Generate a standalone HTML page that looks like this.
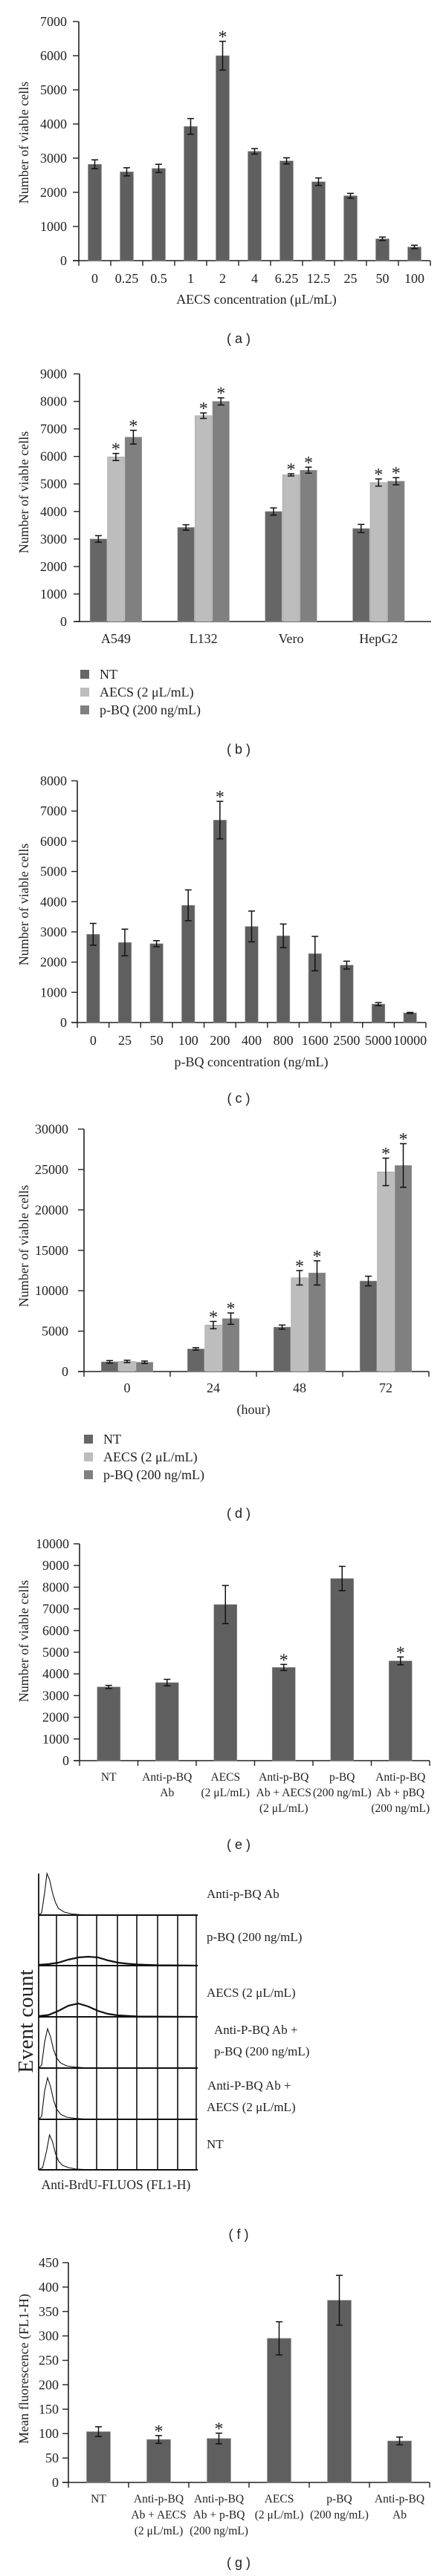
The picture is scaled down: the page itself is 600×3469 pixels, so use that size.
<!DOCTYPE html>
<html><head><meta charset="utf-8"><title>Viable cells and BrdU figure</title>
<style>
html,body{margin:0;padding:0;background:#fff;}
svg{display:block;font-family:"Liberation Serif",serif;}
.lbl{font-family:"Liberation Sans",sans-serif;}
</style></head>
<body>
<svg id="fig" width="600" height="3469" viewBox="0 0 600 3469" xmlns="http://www.w3.org/2000/svg"></svg>
<script>
// ---------- data ----------
const aCats = ["0","0.25","0.5","1","2","4","6.25","12.5","25","50","100"];
const aVals = [2820,2600,2700,3930,6000,3200,2920,2310,1900,640,400];
const aErrs = [130,120,120,230,420,80,90,110,70,50,50];
const aStars = [4];
const aTicks = [0,1000,2000,3000,4000,5000,6000,7000];

const bCats = ["A549","L132","Vero","HepG2"];
const bNT = [3000,3420,4000,3380];
const bNTErr = [120,100,130,150];
const bAECS = [5980,7480,5330,5050];
const bAECSErr = [130,100,40,130];
const bPBQ = [6700,8000,5500,5100];
const bPBQErr = [250,130,110,130];
const bTicks = [0,1000,2000,3000,4000,5000,6000,7000,8000,9000];

const cCats = ["0","25","50","100","200","400","800","1600","2500","5000","10000"];
const cVals = [2920,2650,2610,3880,6700,3180,2870,2280,1900,610,320];
const cErrs = [360,440,100,510,620,510,390,570,130,50,15];
const cStars = [4];
const cTicks = [0,1000,2000,3000,4000,5000,6000,7000,8000];

const dCats = ["0","24","48","72"];
const dNT = [1200,2800,5500,11200];
const dNTErr = [150,150,250,600];
const dAECS = [1250,5750,11600,24700];
const dAECSErr = [150,450,900,1700];
const dPBQ = [1150,6550,12200,25500];
const dPBQErr = [150,700,1500,2700];
const dTicks = [0,5000,10000,15000,20000,25000,30000];

const eCats = [["NT"],["Anti-p-BQ","Ab"],["AECS","(2 \u03bcL/mL)"],["Anti-p-BQ","Ab + AECS","(2 \u03bcL/mL)"],["p-BQ","(200 ng/mL)"],["Anti-p-BQ","Ab + pBQ","(200 ng/mL)"]];
const eVals = [3400,3600,7200,4300,8400,4600];
const eErrs = [70,150,880,140,560,180];
const eStars = [3,5];
const eTicks = [0,1000,2000,3000,4000,5000,6000,7000,8000,9000,10000];

const gCats = [["NT"],["Anti-p-BQ","Ab + AECS","(2 \u03bcL/mL)"],["Anti-p-BQ","Ab + p-BQ","(200 ng/mL)"],["AECS","(2 \u03bcL/mL)"],["p-BQ","(200 ng/mL)"],["Anti-p-BQ","Ab"]];
const gVals = [104,88,90,295,373,85];
const gErrs = [10,8,11,34,51,8];
const gStars = [1,2];
const gTicks = [0,50,100,150,200,250,300,350,400,450];

// flow histograms (x in grid units 0..8, y in px-height units of counts)
const fLabels = [["Anti-p-BQ Ab"],["p-BQ (200 ng/mL)"],["AECS (2 \u03bcL/mL)"],["Anti-P-BQ Ab +","p-BQ (200 ng/mL)"],["Anti-P-BQ Ab +","AECS (2 \u03bcL/mL)"],["NT"]];
const fAnti = [[0,0],[0.15,3],[0.3,30],[0.42,56],[0.55,48],[0.7,30],[0.85,17],[1.0,9],[1.3,4],[1.7,1.5],[2.2,0.5],[3,0],[8,0]];
const fPBQ = [[0,1],[0.5,2],[1,4],[1.5,8],[2,11],[2.5,12],[3,11],[3.5,7],[4,4],[4.5,2.5],[5,1.5],[6,0.5],[8,0]];
const fAECS = [[0,1],[0.5,2.5],[1,8],[1.5,15],[2,18],[2.5,14],[3,8],[3.5,4],[4,2],[5,0.5],[8,0]];
const fAbPBQ = [[0,0],[0.15,4],[0.3,35],[0.45,53],[0.6,42],[0.75,25],[0.9,14],[1.1,7],[1.4,3],[1.8,1.5],[2.3,0.5],[3,0],[8,0]];
const fAbAECS = [[0,0],[0.15,4],[0.3,38],[0.45,56],[0.6,44],[0.75,26],[0.9,14],[1.1,7],[1.4,3],[1.8,1.5],[2.3,0.5],[3,0],[8,0]];
const fNT = [[0,0],[0.2,3],[0.4,25],[0.55,47],[0.7,38],[0.85,22],[1.0,12],[1.2,6],[1.5,3],[1.9,1],[2.4,0.3],[3,0],[8,0]];

// ---------- helpers ----------
const NS = "http://www.w3.org/2000/svg";
const svg = document.getElementById("fig");
function mk(tag, attrs, parent){
  const el = document.createElementNS(NS, tag);
  for (const k in attrs) el.setAttribute(k, attrs[k]);
  (parent || svg).appendChild(el);
  return el;
}
function txt(str, x, y, size, anchor, parent){
  const t = mk("text", {x:x, y:y, "font-size":size, "text-anchor":anchor||"middle", fill:"#222"}, parent);
  t.textContent = str;
  return t;
}
function yOf(p, v){ return p.y0 - v / p.vmax * (p.y0 - p.yTop); }

function axes(p, g){
  const ya = mk("line", {x1:p.x0, y1:p.yTop, x2:p.x0, y2:p.y0, stroke:"#222", "stroke-width":1.6}, g);
  
  
  const xa = mk("line", {x1:p.x0 - 8, y1:p.y0, x2:p.x1, y2:p.y0, stroke:"#222", "stroke-width":1.6}, g);
  
  
  p.ticks.forEach(v => {
    const y = yOf(p, v);
    const tk = mk("line", {x1:p.x0 - 8, y1:y, x2:p.x0, y2:y, stroke:"#222", "stroke-width":1.4}, g);
    
    
    const tl = txt(String(v), p.tickRight, y + 6, 18, "end", g);
    
    
  });
  if (p.catTicks) {
    for (let i = 0; i <= p.nBands; i++) {
      const x = p.x0 + i * (p.x1 - p.x0) / p.nBands;
      const ct = mk("line", {x1:x, y1:p.y0, x2:x, y2:p.y0 + 7, stroke:"#222", "stroke-width":1.4}, g);
      
      
    }
  }
  const yt = txt(p.yTitle, 0, 0, 18, "middle", g);
  yt.setAttribute("transform", "translate(38," + p.yTitleY + ") rotate(-90)");
  
  
}

function bar(p, g, cx, w, v, e, color, star, name){
  const y = yOf(p, v);
  const r = mk("rect", {x:cx - w/2, y:y, width:w, height:p.y0 - y, fill:color, stroke:"#9a9a9a", "stroke-width":0.6}, g);
  
  
  const yt = yOf(p, v + e), yb = yOf(p, v - e);
  const eb = mk("path", {d:"M"+(cx-4.5)+","+yt+"H"+(cx+4.5)+"M"+cx+","+yt+"V"+yb+"M"+(cx-4.5)+","+yb+"H"+(cx+4.5), stroke:"#111", "stroke-width":1.5, fill:"none"}, g);
  
  
  if (star) {
    const s = txt("*", cx, yt + 2, 24, "middle", g);
    
    
  }
}

function panelLabel(letter, y){
  const t = txt("( " + letter + " )", 321, y + 12, 18, "middle");
  t.setAttribute("class", "lbl");
  
  
}

function simplePanel(p, cats, vals, errs, stars, color, name){
  const g = mk("g", {});
  
  
  axes(p, g);
  const band = (p.x1 - p.x0) / p.nBands;
  cats.forEach((c, i) => {
    const cx = p.x0 + band * (i + 0.5);
    bar(p, g, cx, p.barW, vals[i], errs[i], color, stars.indexOf(i) >= 0, "bar-" + i);
    const lines = Array.isArray(c) ? c : [c];
    lines.forEach((ln, j) => {
      const t = txt(ln, cx, p.catY + j * p.catLH, p.catSize, "middle", g);
      
      
    });
  });
  if (p.xTitle) {
    const xt = txt(p.xTitle, p.xTitleX, p.xTitleY, 18, "middle", g);
    
    
  }
}

function groupPanel(p, cats, series, name){
  const g = mk("g", {});
  
  
  axes(p, g);
  cats.forEach((c, i) => {
    const cx = p.gStart + p.band * (i + 0.5);
    series.forEach((s, k) => {
      const bx = cx + (k - 1) * 23.5;
      bar(p, g, bx, 22.5, s.vals[i], s.errs[i], s.color, s.stars && i >= s.starFrom, "bar-" + s.key + "-" + c);
    });
    const t = txt(c, cx, p.catY, 18, "middle", g);
    
    
  });
  if (p.xTitle) {
    const xt = txt(p.xTitle, p.xTitleX, p.xTitleY, 18, "middle", g);
    
    
  }
  series.forEach((s, k) => {
    const ly = p.legY + k * 24;
    const sq = mk("rect", {x:p.legX, y:ly - 6, width:12, height:12, fill:s.color}, g);
    
    
    const lt = txt(s.label, p.legX + 26, ly + 6, 18, "start", g);
    
    
  });
}

// ---------- panel a ----------
simplePanel({x0:106, x1:579, yTop:29, y0:351, vmax:7000, ticks:aTicks, tickRight:90, catTicks:true, nBands:11,
  barW:18, catY:381, catLH:20, catSize:18, yTitle:"Number of viable cells", yTitleY:192,
  xTitle:"AECS concentration (\u03bcL/mL)", xTitleX:345, xTitleY:409}, aCats, aVals, aErrs, aStars, "#5f5f5f", "panel-a-chart");
panelLabel("a", 450);

// ---------- panel b ----------
groupPanel({x0:107, x1:580, yTop:503.5, y0:837, vmax:9000, ticks:bTicks, tickRight:90, catTicks:false,
  gStart:97, band:117.8, catY:866, yTitle:"Number of viable cells", yTitleY:663, legX:108, legY:908},
  bCats, [
    {key:"nt", label:"NT", vals:bNT, errs:bNTErr, color:"#666666", stars:false},
    {key:"aecs", label:"AECS (2 \u03bcL/mL)", vals:bAECS, errs:bAECSErr, color:"#bdbdbd", stars:true, starFrom:0},
    {key:"pbq", label:"p-BQ (200 ng/mL)", vals:bPBQ, errs:bPBQErr, color:"#808080", stars:true, starFrom:0}
  ], "panel-b-chart");
panelLabel("b", 1003);

// ---------- panel c ----------
simplePanel({x0:104, x1:573, yTop:1051.5, y0:1377, vmax:8000, ticks:cTicks, tickRight:90, catTicks:true, nBands:11,
  barW:17.5, catY:1407, catLH:20, catSize:18, yTitle:"Number of viable cells", yTitleY:1218,
  xTitle:"p-BQ concentration (ng/mL)", xTitleX:338, xTitleY:1436}, cCats, cVals, cErrs, cStars, "#5f5f5f", "panel-c-chart");
panelLabel("c", 1473);

// ---------- panel d ----------
groupPanel({x0:113, x1:577, yTop:1520.5, y0:1847, vmax:30000, ticks:dTicks, tickRight:92, catTicks:true, nBands:4,
  gStart:113, band:116, catY:1875, yTitle:"Number of viable cells", yTitleY:1678, legX:113, legY:1938,
  xTitle:"(hour)", xTitleX:341, xTitleY:1904},
  dCats, [
    {key:"nt", label:"NT", vals:dNT, errs:dNTErr, color:"#666666", stars:false},
    {key:"aecs", label:"AECS (2 \u03bcL/mL)", vals:dAECS, errs:dAECSErr, color:"#bdbdbd", stars:true, starFrom:1},
    {key:"pbq", label:"p-BQ (200 ng/mL)", vals:dPBQ, errs:dPBQErr, color:"#808080", stars:true, starFrom:1}
  ], "panel-d-chart");
panelLabel("d", 2032);

// ---------- panel e ----------
simplePanel({x0:107, x1:578, yTop:2079, y0:2371, vmax:10000, ticks:eTicks, tickRight:93, catTicks:true, nBands:6,
  barW:31, catY:2398, catLH:21, catSize:15.5, yTitle:"Number of viable cells", yTitleY:2210},
  eCats, eVals, eErrs, eStars, "#5f5f5f", "panel-e-chart");
panelLabel("e", 2478);

// ---------- panel f (flow histograms) ----------
(function(){
  const g = mk("g", {});
  
  
  const fx0 = 52, fx1 = 265;
  const bases = [2579, 2647, 2716, 2785, 2854, 2922];
  const vx = [52, 76, 104, 130, 158, 184, 212, 239, 264];
  const hists = [fAnti, fPBQ, fAECS, fAbPBQ, fAbAECS, fNT];
  const unit = (fx1 - fx0) / 8;
  const left = mk("line", {x1:fx0, y1:2523, x2:fx0, y2:2922, stroke:"#111", "stroke-width":1.8}, g);
  
  
  vx.slice(1).forEach(x => {
    const l = mk("line", {x1:x, y1:2579, x2:x, y2:2922, stroke:"#111", "stroke-width":1.6}, g);
    
    
  });
  bases.forEach(y => {
    const l = mk("line", {x1:fx0, y1:y, x2:fx1 + 1, y2:y, stroke:"#111", "stroke-width":2}, g);
    
    
  });
  hists.forEach((h, i) => {
    let d = "";
    h.forEach((pt, j) => {
      const x = fx0 + pt[0] * unit, y = bases[i] - pt[1];
      d += (j ? "L" : "M") + x.toFixed(1) + "," + y.toFixed(1);
    });
    const wide = (i === 1 || i === 2);
    const path = mk("path", {d:d, fill:"none", stroke:"#111", "stroke-width": wide ? 2.2 : 1.1}, g);
    
    
  });
  const labelYs = [[2556],[2614],[2689],[2739,2768],[2814,2843],[2893]];
  const labelXs = [278, 278, 278, 288, 278, 278];
  fLabels.forEach((ls, i) => {
    ls.forEach((s, j) => {
      const x = (i === 3 && j === 0) ? 288 : (i === 4 && j === 0 ? 279 : labelXs[i]);
      const t = txt(s, x, labelYs[i][j], 17, "start", g);
      
      
    });
  });
  const ec = txt("Event count", 0, 0, 29, "middle", g);
  ec.setAttribute("transform", "translate(44,2722) rotate(-90)");
  
  
  const xt = txt("Anti-BrdU-FLUOS (FL1-H)", 156, 2948, 17.5, "middle", g);
  
  
})();
panelLabel("f", 3003);

// ---------- panel g ----------
simplePanel({x0:92, x1:578, yTop:3047, y0:3343, vmax:450, ticks:gTicks, tickRight:79, catTicks:true, nBands:6,
  barW:32, catY:3370, catLH:21.5, catSize:15.5, yTitle:"Mean fluorescence (FL1-H)", yTitleY:3190},
  gCats, gVals, gErrs, gStars, "#5f5f5f", "panel-g-chart");
panelLabel("g", 3445);
</script>
</body></html>
